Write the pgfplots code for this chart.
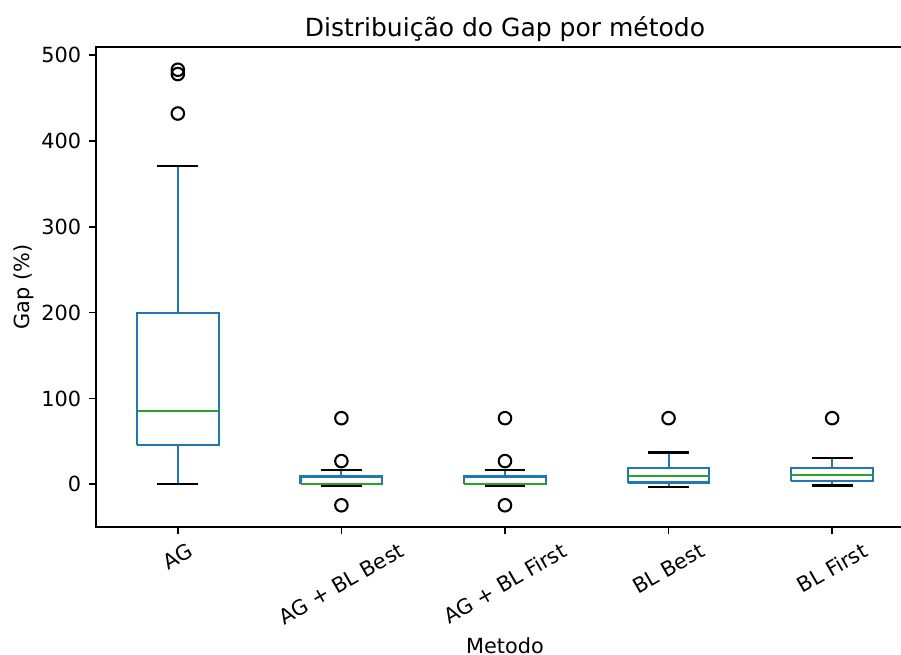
\documentclass[border=0pt]{standalone}
\usepackage{pgfplots}
\pgfplotsset{compat=1.18}
\usepackage{graphicx}
\usepackage{fontspec}
\setmainfont{DejaVu Sans}
\definecolor{c1}{HTML}{1F77B4}
\definecolor{c2}{HTML}{2CA02C}
\begin{document}
\begin{tikzpicture}
\begin{axis}[
  scale only axis,
  width=392.6pt, height=230.4pt,
  xmin=0.5, xmax=5.5,
  ymin=-49.9, ymax=509.4,
  axis line style={line width=0.8pt},
  tick align=outside,
  tick pos=left,
  major tick length=3.5pt,
  tick style={line width=0.8pt, black},
  xtick={1,2,3,4,5},
  xticklabels={\rotatebox{30}{AG},\rotatebox{30}{AG + BL Best},\rotatebox{30}{AG + BL First},\rotatebox{30}{BL Best},\rotatebox{30}{BL First}},
  xticklabel style={anchor=north, inner sep=0pt, yshift=-3.5pt},
  ytick={0,100,200,300,400,500},
  yticklabel style={anchor=east, inner sep=0pt, xshift=-3.5pt},
  /pgf/number format/assume math mode=true,
  ticklabel style={font=\fontsize{10}{12}\selectfont},
  label style={font=\fontsize{10}{12}\selectfont},
  title={Distribuição do Gap por método},
  title style={font=\fontsize{12}{14}\selectfont, at={(0.5,1)}, anchor=base, inner sep=0pt, yshift=-0.7pt},
  xlabel={Metodo},
  xlabel style={yshift=-2.5pt},
  ylabel={Gap (\%)},
  every axis plot/.append style={line width=1pt, mark=none},
]
\coordinate (bl) at (rel axis cs:0,0);
% ---- whiskers (blue)
\addplot[c1] coordinates {(1,46) (1,0)};
\addplot[c1] coordinates {(1,200) (1,370.5)};
\addplot[c1] coordinates {(2,0.3) (2,-2.3)};
\addplot[c1] coordinates {(2,9) (2,17)};
\addplot[c1] coordinates {(3,0.3) (3,-2.3)};
\addplot[c1] coordinates {(3,9) (3,17)};
\addplot[c1] coordinates {(4,2) (4,-2.7)};
\addplot[c1] coordinates {(4,18.7) (4,37)};
\addplot[c1] coordinates {(5,3.9) (5,-1.5)};
\addplot[c1] coordinates {(5,18.7) (5,31)};
% ---- caps (black)
\addplot[black] coordinates {(0.875,0) (1.125,0)};
\addplot[black] coordinates {(0.875,370.5) (1.125,370.5)};
\addplot[black] coordinates {(1.875,-2.3) (2.125,-2.3)};
\addplot[black] coordinates {(1.875,17) (2.125,17)};
\addplot[black] coordinates {(2.875,-2.3) (3.125,-2.3)};
\addplot[black] coordinates {(2.875,17) (3.125,17)};
\addplot[black] coordinates {(3.875,-2.7) (4.125,-2.7)};
\addplot[black] coordinates {(3.875,37) (4.125,37)};
\addplot[black] coordinates {(4.875,-1.5) (5.125,-1.5)};
\addplot[black] coordinates {(4.875,31) (5.125,31)};
% ---- boxes (blue)
\addplot[c1] coordinates {(0.75,46) (1.25,46) (1.25,200) (0.75,200) (0.75,46)};
\addplot[c1] coordinates {(1.75,0.3) (2.25,0.3) (2.25,9) (1.75,9) (1.75,0.3)};
\addplot[c1] coordinates {(2.75,0.3) (3.25,0.3) (3.25,9) (2.75,9) (2.75,0.3)};
\addplot[c1] coordinates {(3.75,2) (4.25,2) (4.25,18.7) (3.75,18.7) (3.75,2)};
\addplot[c1] coordinates {(4.75,3.9) (5.25,3.9) (5.25,18.7) (4.75,18.7) (4.75,3.9)};
% ---- medians (green)
\addplot[c2] coordinates {(0.75,85) (1.25,85)};
\addplot[c2] coordinates {(1.75,0.5) (2.25,0.5)};
\addplot[c2] coordinates {(2.75,0.5) (3.25,0.5)};
\addplot[c2] coordinates {(3.75,9.7) (4.25,9.7)};
\addplot[c2] coordinates {(4.75,10.9) (5.25,10.9)};
% ---- outliers
\addplot[black, only marks, mark=o, mark size=3pt, line width=1pt]
  coordinates {(1,483) (1,478) (1,432)
               (2,77) (2,27) (2,-24.5)
               (3,77) (3,27) (3,-24.5)
               (4,77) (5,77)};
\end{axis}
\pgfresetboundingbox
\path[use as bounding box] ([shift={(-46.1pt,-61.4pt)}]bl) rectangle ([shift={(386.4pt,253pt)}]bl);
\end{tikzpicture}
\end{document}
